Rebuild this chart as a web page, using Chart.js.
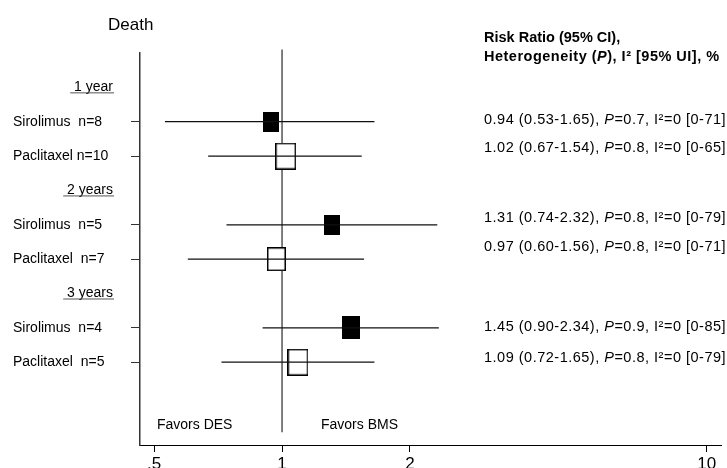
<!DOCTYPE html>
<html>
<head>
<meta charset="utf-8">
<script src="https://cdn.jsdelivr.net/npm/chart.js@4/dist/chart.umd.min.js"></script>
<style>
  body { margin: 0; background: #fff; }
  canvas { display: block; }
</style>
</head>
<body>
<canvas id="grafico" width="727" height="468"></canvas>
<script>
// Datos
const titulo = "Death";
const encabezados = [" 1 year", " 2 years", " 3 years"];
const filasEncabezado = [1, 4, 7];
const etiquetas = ["Sirolimus  n=8", "Paclitaxel n=10", "Sirolimus  n=5", "Paclitaxel  n=7", "Sirolimus  n=4", "Paclitaxel  n=5"];
const filas = [2, 3, 5, 6, 8, 9];
const stent = ["Sirolimus", "Paclitaxel", "Sirolimus", "Paclitaxel", "Sirolimus", "Paclitaxel"];
const rr = [0.94, 1.02, 1.31, 0.97, 1.45, 1.09];
const icInf = [0.53, 0.67, 0.74, 0.60, 0.90, 0.72];
const icSup = [1.65, 1.54, 2.32, 1.56, 2.34, 1.65];
const valoresP = ["0.7", "0.8", "0.8", "0.8", "0.9", "0.8"];
const valoresI2 = ["0", "0", "0", "0", "0", "0"];
const intervalosUI = ["0-71", "0-65", "0-79", "0-71", "0-85", "0-79"];
const pesos = [0.74, 1.0, 0.74, 0.88, 0.85, 1.0]; // peso relativo de cada estudio
const ticksX = [0.5, 1, 2, 10];
const etiquetasX = [".5", "1", "2", "10"];

const fuente = "'Liberation Sans', Arial, sans-serif";

// Cajas de cada estimacion (tamano segun el peso)
function crearCaja(peso, relleno) {
  const alto = Math.round(27 * peso);
  const ancho = Math.round(alto * 0.78);
  const c = document.createElement("canvas");
  c.width = ancho;
  c.height = alto;
  const g = c.getContext("2d");
  if (relleno) {
    g.fillStyle = "#000";
    g.fillRect(0, 0, ancho, alto);
  } else {
    g.fillStyle = "#fff";
    g.fillRect(0, 0, ancho, alto);
    g.strokeStyle = "#000";
    g.lineWidth = 1.5;
    g.strokeRect(0.75, 0.75, ancho - 1.5, alto - 1.5);
  }
  return c;
}
const cajas = pesos.map((p, i) => crearCaja(p, stent[i] === "Sirolimus"));

// Lineas de intervalo de confianza
const datasetsIC = filas.map((f, i) => ({
  type: "line",
  data: [{ x: icInf[i], y: f }, { x: icSup[i], y: f }],
  borderColor: "#111",
  borderWidth: 1.2,
  pointRadius: 0,
  order: 0,
}));

// desplazamiento vertical (px) de cada texto de la columna derecha
const desplazTexto = [-2, -8, -7, -12, -1, -4];

// Textos y etiquetas alrededor del grafico
const textos = {
  id: "textos",
  afterDraw(chart) {
    const ctx = chart.ctx;
    const y = chart.scales.y;
    ctx.save();
    ctx.fillStyle = "#000";
    ctx.textBaseline = "middle";

    ctx.font = `17px ${fuente}`;
    ctx.textAlign = "left";
    ctx.fillText(titulo, 108, 25);

    ctx.font = `14px ${fuente}`;
    etiquetas.forEach((t, i) => ctx.fillText(t, 13, y.getPixelForValue(filas[i])));

    ctx.textAlign = "right";
    encabezados.forEach((t, i) => {
      const py = y.getPixelForValue(filasEncabezado[i]);
      ctx.fillText(t, 113, py);
      const w = ctx.measureText(t).width;
      ctx.fillStyle = "#555";
      ctx.fillRect(113 - w, py + 5, w + 1, 1);
      ctx.fillStyle = "#000";
    });

    ctx.textAlign = "left";
    const yFav = y.getPixelForValue(10.83);
    ctx.fillText("Favors DES", 157, yFav);
    ctx.fillText("Favors BMS", 321, yFav);

    // encabezado de la columna derecha
    const xr = 484;
    ctx.font = `bold 14.5px ${fuente}`;
    ctx.fillText("Risk Ratio (95% CI),", xr, 38);
    ctx.letterSpacing = "0.5px";
    let x = xr;
    const partes = [["Heterogeneity (", "bold"], ["P", "bold italic"], ["), I\u00b2 [95% UI], %", "bold"]];
    partes.forEach(([t, f]) => {
      ctx.font = `${f} 14.5px ${fuente}`;
      ctx.fillText(t, x, 57);
      x += ctx.measureText(t).width;
    });

    // valores por fila
    filas.forEach((f, i) => {
      const py = y.getPixelForValue(f) + desplazTexto[i];
      const segs = [
        [`${rr[i].toFixed(2)} (${icInf[i].toFixed(2)}-${icSup[i].toFixed(2)}), `, ""],
        ["P", "italic"],
        [`=${valoresP[i]}, I\u00b2=${valoresI2[i]} [${intervalosUI[i]}]`, ""],
      ];
      let px = xr;
      segs.forEach(([t, f2]) => {
        ctx.font = `${f2} 14.5px ${fuente}`.trim();
        ctx.fillText(t, px, py);
        px += ctx.measureText(t).width;
      });
    });
    ctx.restore();
  },
};

new Chart(document.getElementById("grafico"), {
  data: {
    datasets: [
      ...datasetsIC,
      {
        type: "scatter",
        data: rr.map((v, i) => ({ x: v, y: filas[i] })),
        pointStyle: cajas,
        pointRadius: 5,
        order: 1,
      },
      {
        type: "line",
        data: [{ x: 1, y: -0.1 }, { x: 1, y: 11.04 }],
        borderColor: "#555",
        borderWidth: 1.5,
        pointRadius: 0,
        clip: false,
        order: 2,
      },
    ],
  },
  options: {
    responsive: false,
    animation: false,
    layout: { padding: { left: 0, top: 53, right: -2, bottom: 0 } },
    plugins: { legend: { display: false }, tooltip: { enabled: false } },
    scales: {
      x: {
        type: "logarithmic",
        min: 0.463,
        max: 10.8,
        afterBuildTicks: (s) => { s.ticks = ticksX.map((v) => ({ value: v })); },
        afterFit: (s) => { s.height = 23; s.paddingLeft = 0; s.paddingRight = 0; },
        ticks: {
          autoSkip: false,
          maxRotation: 0,
          padding: 2,
          color: "#000",
          font: { family: fuente, size: 17 },
          callback: (v, i) => etiquetasX[i],
        },
        grid: { drawOnChartArea: false, tickLength: 7, color: "#000" },
        border: { color: "#000", width: 1 },
      },
      y: {
        type: "linear",
        reverse: true,
        min: 0,
        max: 11.41,
        afterBuildTicks: (s) => { s.ticks = filas.map((v) => ({ value: v })); },
        afterFit: (s) => { s.width = 140; },
        ticks: { display: false },
        grid: { drawOnChartArea: false, tickLength: 9, color: "#333" },
        border: { color: "#333", width: 1.5 },
      },
    },
  },
  plugins: [textos],
});
</script>
</body>
</html>
